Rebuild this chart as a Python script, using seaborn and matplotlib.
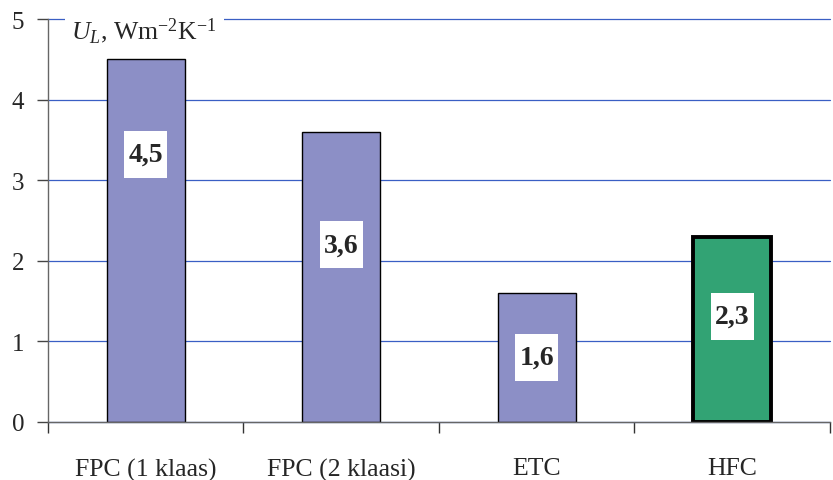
import pandas as pd
import numpy as np
import seaborn as sns
import matplotlib.pyplot as plt
from matplotlib.patches import Rectangle

# Data
categories = ['FPC (1 klaas)', 'FPC (2 klaasi)', 'ETC', 'HFC']
ul_values = [4.5, 3.6, 1.6, 2.3]
value_labels = ['4,5', '3,6', '1,6', '2,3']
bar_colors = ['#8c8fc6', '#8c8fc6', '#8c8fc6', '#32a374']

sns.set_style("white")
plt.rcParams['font.family'] = ['Liberation Serif', 'DejaVu Serif']
plt.rcParams['mathtext.fontset'] = 'custom'
plt.rcParams['mathtext.rm'] = 'Liberation Serif'
plt.rcParams['mathtext.it'] = 'Liberation Serif:italic'

df = pd.DataFrame({'Collector': categories, 'UL': ul_values})

fig = plt.figure(figsize=(8.33, 4.81), dpi=100)
ax = fig.add_axes([0.0576, 0.1206, 0.9388, 0.8374])

sns.barplot(data=df, x='Collector', y='UL', hue='Collector', palette=bar_colors,
            width=0.4, saturation=1, edgecolor='black', linewidth=1,
            legend=False, ax=ax)

# thicker outline on the HFC bar
ax.patches[3].set_linewidth(2.8)

ax.set_ylim(0, 5)
ax.set_xlim(-0.5, 3.5)
ax.set_yticks([0, 1, 2, 3, 4, 5])
ax.yaxis.grid(True, color='#3a5fc4', linewidth=0.9)
ax.set_axisbelow(True)
for gl in ax.get_ygridlines():
    gl.set_clip_on(False)
ax.set_xlabel('')
ax.set_ylabel('')

for side in ['top', 'right']:
    ax.spines[side].set_visible(False)
for side in ['left', 'bottom']:
    ax.spines[side].set_color('#666666')
    ax.spines[side].set_linewidth(1)

ax.tick_params(axis='y', left=True, length=8, width=1, color='#444444',
               labelsize=18, pad=9)
ax.tick_params(axis='x', bottom=False, labelsize=18.5, pad=22)
ax.set_xticks([-0.5, 0.5, 1.5, 2.5, 3.5], minor=True)
ax.tick_params(axis='x', which='minor', bottom=True, length=8, width=1,
               color='#333333')

# value boxes inside the bars (white box a bit taller than wide)
label_heights = [3.32, 2.2, 0.8, 1.31]
box_w, box_h = 0.22, 0.58
for i, (lab, h) in enumerate(zip(value_labels, label_heights)):
    ax.add_patch(Rectangle((i - box_w / 2, h - box_h / 2), box_w, box_h,
                           facecolor='white', edgecolor='none', zorder=3))
    ax.text(i, h, lab, ha='center', va='center', fontsize=20,
            fontweight='bold', zorder=4)

ax.text(0.03, 4.86, r'$U_L$, Wm$^{-2}$K$^{-1}$', transform=ax.get_yaxis_transform(),
        ha='left', va='center', fontsize=18.5, zorder=5,
        bbox=dict(facecolor='white', edgecolor='none', pad=5))

fig.savefig('out.png', dpi=100)
